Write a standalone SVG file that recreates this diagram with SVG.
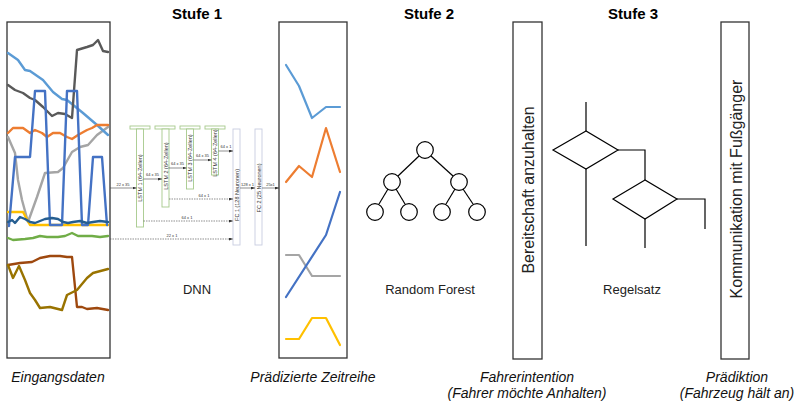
<svg xmlns="http://www.w3.org/2000/svg" width="796" height="407" viewBox="0 0 796 407">
<style>
.box{fill:#fff;stroke:#333;stroke-width:1.3}
.ln{fill:none;stroke-width:2.4;stroke-linejoin:round;stroke-linecap:round}
.pl{fill:none;stroke-width:2.2;stroke-linejoin:round;stroke-linecap:round}
.title{font-family:"Liberation Sans",Arial,sans-serif;font-weight:bold;font-size:15px;text-anchor:middle;fill:#000}
.lbl{font-family:"Liberation Sans",Arial,sans-serif;font-size:13px;text-anchor:middle;fill:#222}
.cap{font-family:"Liberation Sans",Arial,sans-serif;font-style:italic;font-size:14px;text-anchor:middle;fill:#111}
.vt{font-family:"Liberation Sans",Arial,sans-serif;font-size:16px;text-anchor:middle;fill:#222}
.lstm{fill:#fff;stroke:#a6c98c;stroke-width:0.9}
.fc{fill:#fff;stroke:#c8cde0;stroke-width:0.9}
.tiny{font-family:"Liberation Sans",Arial,sans-serif;font-size:4px;text-anchor:middle;fill:#333}
.small{font-family:"Liberation Sans",Arial,sans-serif;font-size:5.5px;text-anchor:middle;fill:#333}
.ar{fill:none;stroke:#444;stroke-width:0.6}
.da{fill:none;stroke:#444;stroke-width:0.6;stroke-dasharray:1.5 1}
.tree{fill:#fff;stroke:#000;stroke-width:1.2}
.rule{fill:none;stroke:#000;stroke-width:1.2}
</style>
<defs>
<marker id="ah" markerWidth="4" markerHeight="3" refX="4" refY="1.5" orient="auto" markerUnits="userSpaceOnUse">
<path d="M0,0 L4,1.5 L0,3 z" fill="#333"/>
</marker>
</defs>

<text class="title" x="197" y="19">Stufe 1</text>
<text class="title" x="429" y="19">Stufe 2</text>
<text class="title" x="633" y="19">Stufe 3</text>

<g id="eingangsdaten">
<rect class="box" x="7" y="22" width="103" height="336"/>
<polyline class="ln" stroke="#a5a5a5" points="8,137 15,153 18,180 22,200 28,222 37,197 45,173 58,172 63,168 72,152 80,147 88,145 97,135 108,127"/>
<polyline class="ln" stroke="#5b9bd5" points="8,53 18,60 25,70 30,71 43,80 53,92 62,99 67,100 83,113 97,125 108,135"/>
<polyline class="ln" stroke="#595959" points="8,85 15,90 23,93 30,98 35,100 43,107 52,116 58,113 65,114 72,118 77,50 87,47 93,45 98,40 103,51 108,52"/>
<polyline class="ln" stroke="#ed7d31" points="8,133 13,128 23,128 30,133 35,130 42,133 47,137 53,133 60,133 67,137 72,139 78,135 87,130 92,128 97,125 108,125"/>
<polyline class="ln" stroke="#ffc000" points="8,212 23,212 30,225 108,225"/>
<polyline class="ln" stroke="#4472c4" points="9,226 15,157 30,157 35,91 45,91 50,225 62,225 67,91 77,91 82,225 88,225 93,157 102,157 107,225"/>
<polyline class="ln" stroke="#255e91" points="8,222 12,220 15,223 20,217 25,219 30,222 35,223 40,221 45,219 52,218 58,219 63,222 68,223 73,222 80,221 87,223 93,222 100,221 108,222"/>
<polyline class="ln" stroke="#70ad47" points="8,238 13,240 25,239 33,238 40,236 47,237 58,237 65,236 72,233 78,236 92,236 100,237 108,236"/>
<polyline class="ln" stroke="#9e480e" points="8,265 20,263 32,262 40,258 50,256 60,256 67,257 72,257 77,307 82,307 87,309 97,308 108,310"/>
<polyline class="ln" stroke="#997300" points="8,265 13,278 19,266 25,280 30,293 35,300 40,308 50,307 62,310 67,295 77,290 87,278 93,273 108,269"/>
<text class="cap" x="58" y="382">Eingangsdaten</text>
</g>

<g id="dnn">
<g id="lstm1">
<rect class="lstm" x="130" y="126" width="20" height="3"/>
<rect class="lstm" x="136.5" y="129" width="7" height="98"/>
<text class="small" transform="translate(142,178) rotate(-90)">LSTM 1 (64-Zellen)</text>
</g>
<g id="lstm2">
<rect class="lstm" x="155" y="126" width="20" height="3"/>
<rect class="lstm" x="162" y="129" width="7" height="78"/>
<text class="small" transform="translate(167.5,166) rotate(-90)">LSTM 2 (64-Zellen)</text>
</g>
<g id="lstm3">
<rect class="lstm" x="180" y="126" width="20" height="3"/>
<rect class="lstm" x="186.5" y="129" width="7" height="60"/>
<text class="small" transform="translate(192,158) rotate(-90)">LSTM 3 (64-Zellen)</text>
</g>
<g id="lstm4">
<rect class="lstm" x="205" y="126" width="20" height="3"/>
<rect class="lstm" x="211.5" y="129" width="7" height="46"/>
<text class="small" transform="translate(217,153) rotate(-90)">LSTM 4 (64-Zellen)</text>
</g>
<g id="fc1">
<rect class="fc" x="233" y="129" width="7" height="116"/>
<text class="small" transform="translate(238.5,195) rotate(-90)">FC 1 (128 Neuronen)</text>
</g>
<g id="fc2">
<rect class="fc" x="255" y="129" width="7" height="116"/>
<text class="small" transform="translate(260.5,188) rotate(-90)">FC 2 (25 Neuronen)</text>
</g>
<text class="lbl" x="197" y="294">DNN</text>
</g>

<g id="connectors">
<line class="ar" x1="110" y1="188" x2="136.5" y2="188" marker-end="url(#ah)"/>
<text class="tiny" x="123" y="186">22 x 35</text>
<line class="ar" x1="143.5" y1="179" x2="162" y2="179" marker-end="url(#ah)"/>
<text class="tiny" x="152.5" y="176">64 x 35</text>
<line class="ar" x1="169" y1="168" x2="186.5" y2="168" marker-end="url(#ah)"/>
<text class="tiny" x="177.5" y="165">64 x 35</text>
<line class="ar" x1="193.5" y1="160" x2="211.5" y2="160" marker-end="url(#ah)"/>
<text class="tiny" x="202.5" y="157">64 x 35</text>
<line class="ar" x1="218.5" y1="151" x2="233" y2="151" marker-end="url(#ah)"/>
<text class="tiny" x="226" y="148">64 x 1</text>
<line class="ar" x1="240" y1="188" x2="255" y2="188" marker-end="url(#ah)"/>
<text class="tiny" x="247.5" y="186">128 x 1</text>
<line class="ar" x1="262" y1="188" x2="279" y2="188" marker-end="url(#ah)"/>
<text class="tiny" x="270.5" y="186">25x1</text>
<line class="da" x1="169" y1="199" x2="233" y2="199" marker-end="url(#ah)"/>
<text class="tiny" x="204" y="197">64 x 1</text>
<line class="da" x1="143.5" y1="221" x2="233" y2="221" marker-end="url(#ah)"/>
<text class="tiny" x="187" y="219">64 x 1</text>
<line class="da" x1="110" y1="239" x2="233" y2="239" marker-end="url(#ah)"/>
<text class="tiny" x="172" y="237">22 x 1</text>
</g>

<g id="zeitreihe">
<rect class="box" x="279" y="22" width="68" height="336"/>
<polyline class="pl" stroke="#5b9bd5" points="286,65 299,86 312,118 326,107 340,107"/>
<polyline class="pl" stroke="#ed7d31" points="286,182 299,166 312,177 326,128 340,172"/>
<polyline class="pl" stroke="#a5a5a5" points="286,255 299,255 312,276 340,276"/>
<polyline class="pl" stroke="#4472c4" points="286,297 326,235 340,192"/>
<polyline class="pl" stroke="#ffc000" points="286,339 299,339 312,318 326,318 340,345"/>
<text class="cap" x="313" y="382">Prädizierte Zeitreihe</text>
</g>

<g id="random-forest">
<g class="rule">
<line x1="419" y1="156" x2="398" y2="176"/>
<line x1="431" y1="156" x2="453" y2="176"/>
<line x1="388" y1="189" x2="379" y2="204"/>
<line x1="396" y1="189" x2="405" y2="204"/>
<line x1="455" y1="189" x2="446" y2="204"/>
<line x1="463" y1="189" x2="473" y2="204"/>
</g>
<circle class="tree" cx="425" cy="150" r="8.3"/>
<circle class="tree" cx="392" cy="182" r="8.3"/>
<circle class="tree" cx="459" cy="182" r="8.3"/>
<circle class="tree" cx="375" cy="212" r="8.3"/>
<circle class="tree" cx="409" cy="212" r="8.3"/>
<circle class="tree" cx="442" cy="212" r="8.3"/>
<circle class="tree" cx="477" cy="212" r="8.3"/>
<text class="lbl" x="430" y="294">Random Forest</text>
</g>

<g id="fahrerintention">
<rect class="box" x="513" y="22" width="29" height="337"/>
<text class="vt" transform="translate(534,190) rotate(-90)">Bereitschaft anzuhalten</text>
<text class="cap" x="527" y="382">Fahrerintention</text>
<text class="cap" x="527" y="398">(Fahrer möchte Anhalten)</text>
</g>

<g id="regelsatz">
<path class="rule" d="M586,102 V131 M586,169 V246 M618,150 H645 V180 M645,219 V248 M677,199 H705 V229"/>
<polygon class="rule" points="586,131 553,150 586,169 618,150"/>
<polygon class="rule" points="645,180 613,199 645,219 677,199"/>
<text class="lbl" x="632" y="294">Regelsatz</text>
</g>

<g id="praediktion">
<rect class="box" x="721" y="22" width="28" height="337"/>
<text class="vt" transform="translate(741.5,189) rotate(-90)">Kommunikation mit Fußgänger</text>
<text class="cap" x="737" y="382">Prädiktion</text>
<text class="cap" x="737" y="398">(Fahrzeug hält an)</text>
</g>
</svg>
